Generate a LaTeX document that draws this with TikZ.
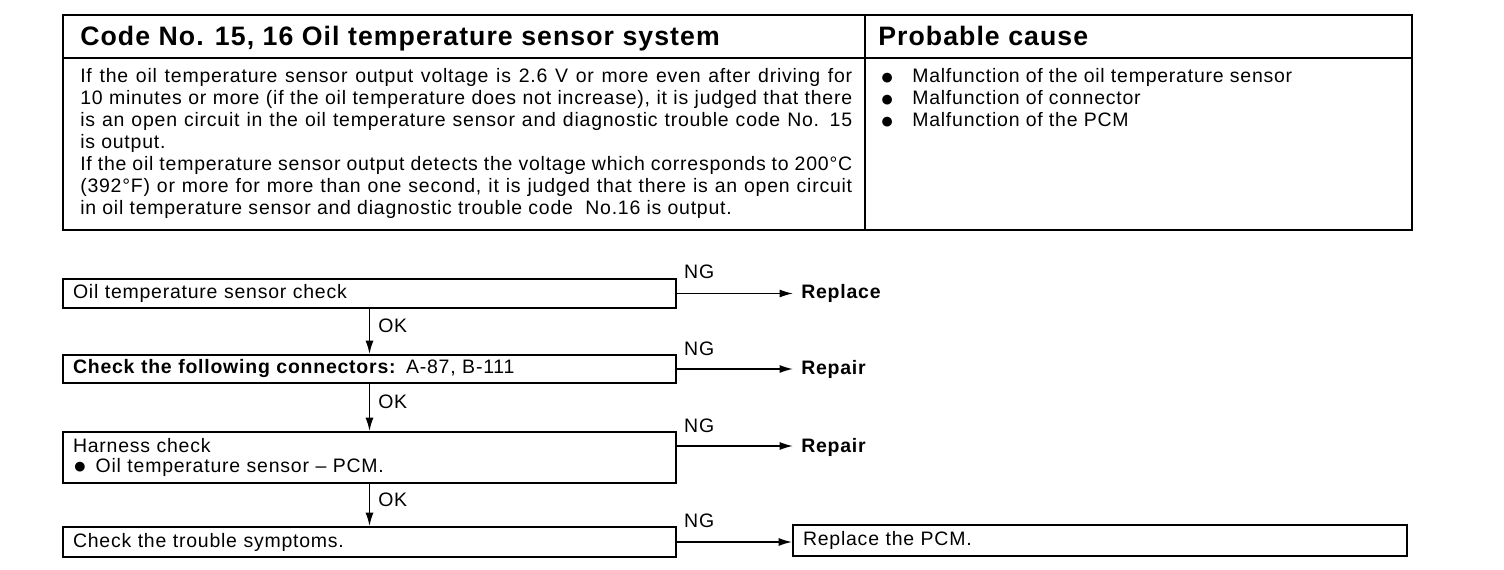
\documentclass[tikz,border=0pt]{standalone}
\usepackage{fontspec}
\setmainfont{Liberation Sans}[LetterSpace=4]
\usetikzlibrary{arrows.meta,calc}
\newcommand{\jl}[1]{\makebox[579pt][s]{#1}}
\newcommand{\bodyfont}{\fontsize{14.6}{16.5}\selectfont}
\newcommand{\bul}{\raisebox{-1pt}[0pt][0pt]{\fontsize{17}{17}\selectfont ●}}
\newcommand{\hdrfont}{\fontsize{20}{22}\selectfont\bfseries}
\begin{document}
\begin{tikzpicture}[x=0.75pt,y=-0.75pt,
  font=\bodyfont,
  frame/.style={line width=1.8pt},
  txt/.style={inner sep=0pt, anchor=base west},
  box/.style={draw, line width=1.4pt, inner xsep=7.5pt, inner ysep=0pt,
    text width=444.75pt, align=left, minimum width=459.75pt},
  arr/.style={line width=1.2pt, -{Latex[length=10pt,width=6pt]}},
  lbl/.style={inner sep=0pt}]
\useasboundingbox (0,0) rectangle (1504,570);
% table
\draw[frame] (63,15) rectangle (1412,230);
\draw[frame] (63,58) -- (1412,58);
\draw[frame] (865,15) -- (865,230);
\node[txt, font=\hdrfont] (h1) at (80,46) {Code No. 15, 16 Oil temperature sensor system};
\node[txt, font=\hdrfont] (h2) at (878,46) {Probable cause};
\node[txt] (t1) at (80,83) {\jl{If the oil temperature sensor output voltage is 2.6 V or more even after driving for}};
\node[txt] (t2) at (80,105) {\jl{10 minutes or more (if the oil temperature does not increase), it is judged that there}};
\node[txt] (t3) at (80,127) {\jl{is an open circuit in the oil temperature sensor and diagnostic trouble code No. 15}};
\node[txt] (t4) at (80,149) {is output.};
\node[txt] (t5) at (80,171) {\jl{If the oil temperature sensor output detects the voltage which corresponds to 200°C}};
\node[txt] (t6) at (80,193) {\jl{(392°F) or more for more than one second, it is judged that there is an open circuit}};
\node[txt] (t7) at (80,215) {in oil temperature sensor and diagnostic trouble code\ \ No.16 is output.};
\node[txt] (p1) at (880,83) {\makebox[24pt][l]{\bul}Malfunction of the oil temperature sensor};
\node[txt] (p2) at (880,105) {\makebox[24pt][l]{\bul}Malfunction of connector};
\node[txt] (p3) at (880,127) {\makebox[24pt][l]{\bul}Malfunction of the PCM};
% flowchart
\node[box, minimum height=21.75pt] (c1) at (369.5,293.5) {Oil temperature sensor check};
\node[box, minimum height=21pt] (c2) at (369.5,369) {\textbf{Check the following connectors:} A-87, B-111};
\node[box, minimum height=38.25pt, font=\fontsize{14.6}{15}\selectfont] (c3) at (369.5,457.5) {Harness check\\\makebox[17pt][l]{\bul}Oil temperature sensor – PCM.};
\node[box, minimum height=22.5pt] (c4) at (369.5,542) {Check the trouble symptoms.};
\node[box, minimum height=23.25pt, text width=445.5pt, minimum width=460.5pt] (c5) at (1100,540.5) {Replace the PCM.};
\node[txt, font={\bodyfont\bfseries}] (r1) at (801,298.5) {Replace};
\node[txt, font={\bodyfont\bfseries}] (r2) at (801,375) {Repair};
\node[txt, font={\bodyfont\bfseries}] (r3) at (801,452) {Repair};
\coordinate (c3o) at ($(c3.east)+(0,-11.5)$);
\draw[arr] (c1.east) -- ($(c1.east -| r1.west)+(-8,0)$);
\draw[arr] (c2.east) -- ($(c2.east -| r2.west)+(-8,0)$);
\draw[arr] (c3o) -- ($(c3o -| r3.west)+(-8,0)$);
\draw[arr] (c4.east) -- (c4.east -| c5.west);
\node[lbl, anchor=base west] (ng1) at ($(c1.north east)+(7,0)$) {NG};
\node[lbl, anchor=base west] (ng2) at ($(c2.north east)+(7,1)$) {NG};
\node[lbl, anchor=base west] (ng3) at ($(c3.north east)+(7,1)$) {NG};
\node[lbl, anchor=base west] (ng4) at ($(c4.north east)+(7,1)$) {NG};
\draw[arr] (c1.south) -- node[lbl, anchor=west, pos=0.38, xshift=6pt] (ok1) {OK} (c2.north);
\draw[arr] (c2.south) -- node[lbl, anchor=west, pos=0.38, xshift=6pt] (ok2) {OK} (c3.north);
\draw[arr] (c3.south) -- node[lbl, anchor=west, pos=0.38, xshift=6pt] (ok3) {OK} (c4.north);
\end{tikzpicture}
\end{document}
